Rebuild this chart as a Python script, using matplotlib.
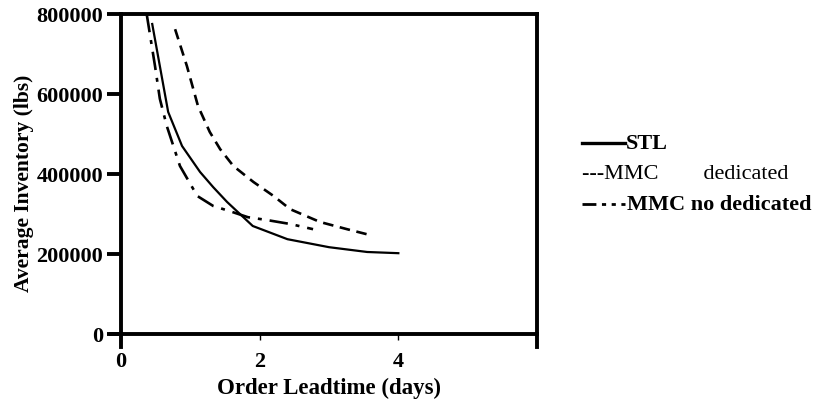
import matplotlib
matplotlib.use("agg")
import matplotlib.pyplot as plt
from matplotlib.lines import Line2D

# Values
stl_x = [0.45, 0.68, 0.88, 1.14, 1.33, 1.53, 1.9, 2.4, 3.0, 3.55, 4.0]
stl_y = [775000, 555000, 470000, 405000, 367000, 330000, 270000, 237000, 217000, 205000, 202000]

dedicated_x = [0.78, 0.95, 1.11, 1.28, 1.43, 1.62, 1.91, 2.2, 2.44, 2.87, 3.26, 3.6]
dedicated_y = [762000, 670000, 570000, 505000, 462000, 420000, 380000, 345000, 312000, 280000, 262000, 247000]

nodedic_x = [0.37, 0.49, 0.56, 0.66, 0.85, 1.1, 1.33, 1.57, 1.83, 2.1, 2.44, 2.77]
nodedic_y = [800000, 670000, 588000, 520000, 420000, 345000, 320000, 307000, 292000, 285000, 275000, 262000]

x_ticks = [0, 2, 4]
y_ticks = [0, 200000, 400000, 600000, 800000]

plt.rcParams['font.family'] = ['Liberation Serif', 'DejaVu Serif']

W, H = 815, 402
fig = plt.figure(figsize=(W / 100, H / 100), dpi=100)
ax = fig.add_axes([0.1485, 0.1667, 0.5104, 0.796])

ax.plot(stl_x, stl_y, color='black', lw=1.6, ls='-')
ax.plot(dedicated_x, dedicated_y, color='black', lw=1.9, ls=(0, (4, 2.5)))
ax.plot(nodedic_x, nodedic_y, color='black', lw=1.9, ls=(0, (7, 3, 1.5, 3)))

ax.set_xlim(0, 6)
ax.set_ylim(0, 800000)

for s in ax.spines.values():
    s.set_linewidth(2.8)

# spines extend a little past the corners
ax.plot([0, 0], [-0.04, 0], transform=ax.transAxes, color='black', lw=2.8, clip_on=False)
ax.plot([1, 1], [-0.04, 0], transform=ax.transAxes, color='black', lw=2.8, clip_on=False)
ax.plot([-0.025, 0], [0, 0], transform=ax.transAxes, color='black', lw=2.8, clip_on=False)

ax.set_xticks(x_ticks)
ax.set_xticklabels([str(t) for t in x_ticks], fontsize=16, fontweight='bold')
ax.tick_params(axis='x', direction='out', length=4, width=1, pad=8)

ax.set_yticks(y_ticks)
ax.set_yticklabels([str(t) for t in y_ticks], fontsize=16, fontweight='bold')
ax.tick_params(axis='y', direction='out', length=10, width=2.8, pad=3)

ax.set_xlabel("Order Leadtime (days)", fontsize=16.5, fontweight='bold')
ax.xaxis.set_label_coords(0.5, -0.135)
ax.set_ylabel("Average Inventory (lbs)", fontsize=15.5, fontweight='bold')
ax.yaxis.set_label_coords(-0.21, 0.475)

# hand-drawn legend, laid out like the original
def fx(px):
    return px / W

def fy(py):
    return 1 - py / H

fig.add_artist(Line2D([fx(582), fx(625)], [fy(144), fy(144)], color='black',
                      lw=2.4, transform=fig.transFigure))
fig.text(fx(626), fy(144), "STL", fontsize=16, fontweight='bold', va='center')
fig.text(fx(582), fy(175), "---MMC        dedicated", fontsize=16, va='center')
fig.add_artist(Line2D([fx(582), fx(625)], [fy(205), fy(205)], color='black',
                      lw=2, ls=(0, (5, 2, 1.5, 2, 1.5, 2)), transform=fig.transFigure))
fig.text(fx(627), fy(205), "MMC no dedicated", fontsize=16, fontweight='bold', va='center')

fig.savefig("out.png", dpi=100)
